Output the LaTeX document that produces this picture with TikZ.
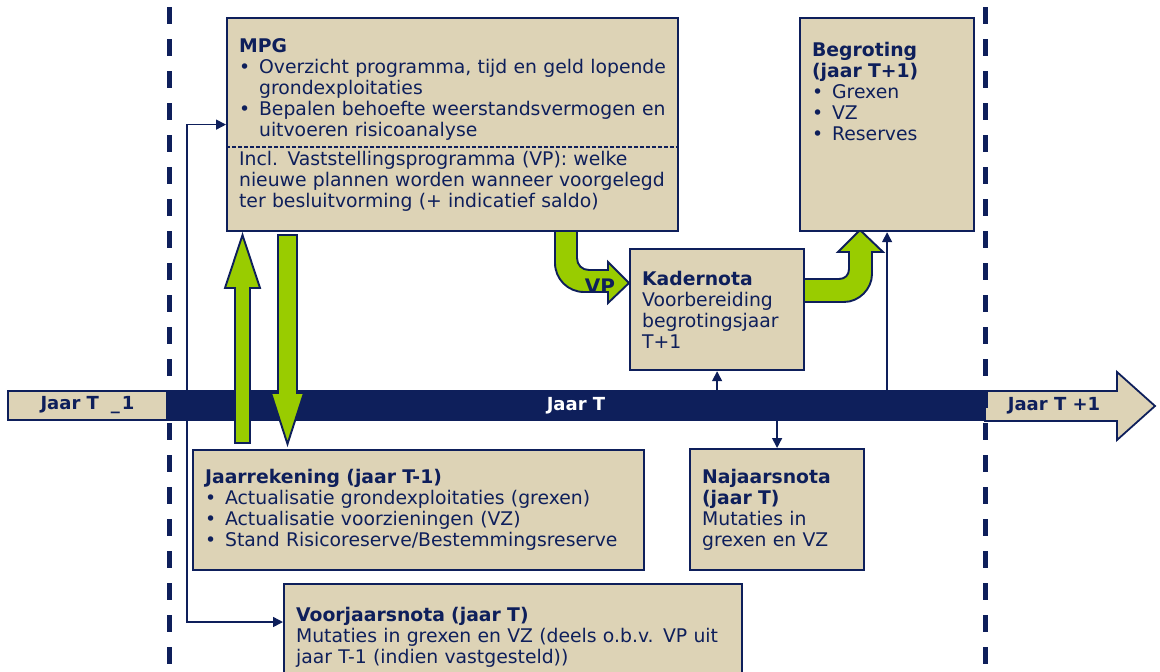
\documentclass[tikz,border=0pt]{standalone}
\usepackage{fontspec}
\setmainfont{DejaVu Sans}
\usetikzlibrary{shapes.geometric, arrows.meta, positioning, calc}

\definecolor{navy}{HTML}{0E1F5B}
\definecolor{tan}{HTML}{DDD3B6}
\definecolor{lime}{HTML}{99CC00}

% bullet line with hanging indent
\newcommand{\itm}[1]{\par\hangindent=20pt\hangafter=1\noindent\makebox[20pt][l]{\textbullet}#1}

\tikzset{
  box/.style={draw=navy, line width=2.2pt, fill=tan, text=navy, align=left, anchor=north west,
    inner xsep=12pt, inner ysep=0pt, font=\fontsize{18.8}{21}\selectfont},
  bar/.style={fill=navy, text=white, inner sep=0pt, minimum width=818pt, minimum height=31pt,
    font=\fontsize{18}{20}\selectfont\bfseries},
  yearbox/.style={draw=navy, line width=1.8pt, fill=tan, text=navy, inner sep=0pt,
    font=\fontsize{18}{20}\selectfont\bfseries},
  yeartext/.style={text=navy, inner sep=0pt, font=\fontsize{18}{20}\selectfont\bfseries},
  garrow/.style={fill=lime, draw=navy, line width=1.9pt, line join=miter},
  conn/.style={draw=navy, line width=1.5pt, >={Triangle[length=10pt,width=10pt]}},
  yearline/.style={draw=navy, line width=5pt, dash pattern=on 17pt off 15pt},
}

\begin{document}
\begin{tikzpicture}[x=1pt,y=-1pt]
\useasboundingbox (0,0) rectangle (1160,672);

% tijdlijn
\node[bar] (jaart) at (576,405.5) {Jaar T};
\node[yearbox, minimum width=159pt, minimum height=29pt] (vorigjaar) at (87.5,405.5) {Jaar T\hspace{12pt}\_\hspace{2pt}1\hspace{13pt}};
\draw[yearbox] (985,391) -- (1117,391) -- (1117,372) -- (1155,406) -- (1117,440) -- (1117,421) -- (985,421) -- cycle;
\node[yeartext] (volgendjaar) at (1054,406) {Jaar T +1};

% groene pijlen
\draw[garrow] (235,443) -- (235,288) -- (225,288) -- (242.5,235) -- (260,288) -- (250,288) -- (250,443) -- cycle;
\draw[garrow] (278,235) -- (297,235) -- (297,393) -- (304,393) -- (287.5,444) -- (271,393) -- (278,393) -- cycle;
\draw[garrow] (555,229) -- (555,263) .. controls (555,279) and (568,292) .. (584,292) -- (608,292) -- (608,303)
  -- (629,283) -- (608,262) -- (608,270) -- (589,270) .. controls (582,270) and (577,265) .. (577,258) -- (577,229) -- cycle;
\draw[garrow] (802,279) -- (839,279) .. controls (845,279) and (849,275) .. (849,269) -- (849,252) -- (838,252)
  -- (860,230) -- (883,252) -- (872,252) -- (872,274) .. controls (872,289) and (859,302) .. (844,302) -- (802,302) -- cycle;
\node[text=navy, inner sep=0pt, font=\fontsize{20}{20}\selectfont\bfseries] (vp) at (600,286) {VP};

% blokken
\node[box, text width=427pt, minimum height=213pt] (mpg) at (226,17) {%
\textbf{MPG}%
\itm{Overzicht programma, tijd en geld lopende\newline grondexploitaties}%
\itm{Bepalen behoefte weerstandsvermogen en\newline uitvoeren risicoanalyse}\par\vspace{8pt}%
\noindent Incl. Vaststellingsprogramma (VP): welke\\nieuwe plannen worden wanneer voorgelegd\\ter besluitvorming (+ indicatief saldo)};
\draw[navy, line width=1.4pt, dash pattern=on 4pt off 2pt] ($(mpg.north west)+(0,130)$) -- ($(mpg.north east)+(0,130)$);

\node[box, text width=150pt, minimum height=213pt] (begroting) at (799,17) {%
\textbf{Begroting}\\\textbf{(jaar T+1)}%
\itm{Grexen}\itm{VZ}\itm{Reserves}\par\rule{0pt}{66pt}};

\node[box, text width=150pt, minimum height=121pt] (kadernota) at (629,248) {%
\textbf{Kadernota}\\Voorbereiding\\begrotingsjaar\\T+1};

\node[box, text width=427pt, minimum height=120pt] (jaarrekening) at (192,449) {%
\textbf{Jaarrekening (jaar T-1)}%
\itm{Actualisatie grondexploitaties (grexen)}%
\itm{Actualisatie voorzieningen (VZ)}%
\itm{Stand Risicoreserve/Bestemmingsreserve}};

\node[box, text width=150pt, minimum height=121pt] (najaarsnota) at (689,448) {%
\textbf{Najaarsnota}\\\textbf{(jaar T)}\\Mutaties in\\grexen en VZ};

\node[box, text width=434pt, minimum height=107pt] (voorjaarsnota) at (283,583) {%
\textbf{Voorjaarsnota (jaar T)}\\Mutaties in grexen en VZ (deels o.b.v. VP uit\\jaar T-1 (indien vastgesteld))};

% verbindingen
\coordinate (vjin) at ($(voorjaarsnota.north west)+(0,39)$);
\draw[conn,<->] (mpg.west) -- ++(-39,0) |- (vjin);
\draw[conn,->] (kadernota.south |- jaart.north) -- (kadernota.south);
\draw[conn,->] (najaarsnota.north |- jaart.south) -- (najaarsnota.north);
\draw[conn,->] (begroting.south |- jaart.north) -- (begroting.south);

% jaargrenzen
\draw[yearline] (169,7) -- (169,672);
\draw[yearline] (985,7) -- (985,672);
\end{tikzpicture}
\end{document}
